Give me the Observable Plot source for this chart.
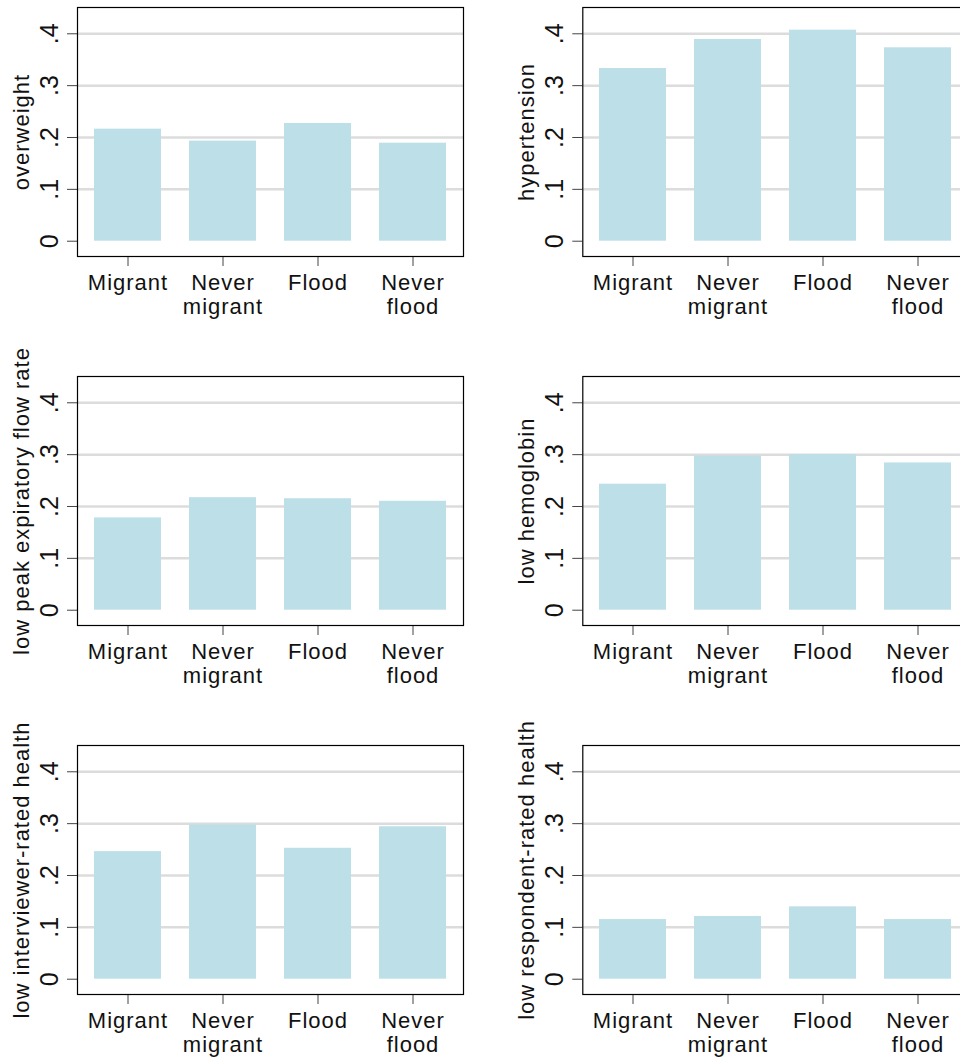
<!DOCTYPE html>
<html>
<head>
<meta charset="utf-8">
<script src="https://cdn.jsdelivr.net/npm/d3@7"></script>
<script src="https://cdn.jsdelivr.net/npm/@observablehq/plot@0.6"></script>
<style>
  html, body { margin: 0; padding: 0; background: white; }
  #wrap { position: relative; width: 960px; height: 1059px; overflow: hidden; background: white; }
  #wrap svg { position: absolute; overflow: visible; }
  .ytick text { letter-spacing: 0px; }
</style>
</head>
<body>
<div id="wrap"></div>
<script>
// ---- data ----
const categories = ["Migrant", "Never migrant", "Flood", "Never flood"];
const xTickLabels = ["Migrant", "Never\nmigrant", "Flood", "Never\nflood"];
const yTicks = [0, 0.1, 0.2, 0.3, 0.4];
const yTickLabels = ["0", ".1", ".2", ".3", ".4"];
const gridTicks = [0.1, 0.2, 0.3, 0.4];

const titles = [
  "overweight",
  "hypertension",
  "low peak expiratory flow rate",
  "low hemoglobin",
  "low interviewer-rated health",
  "low respondent-rated health"
];
const overweight   = [0.216, 0.193, 0.227, 0.189];
const hypertension = [0.333, 0.389, 0.407, 0.373];
const lowPEFR      = [0.178, 0.217, 0.215, 0.210];
const lowHemoglobin = [0.243, 0.297, 0.300, 0.284];
const lowInterviewer = [0.246, 0.2975, 0.2525, 0.294];
const lowRespondent  = [0.115, 0.121, 0.1395, 0.115];
const seriesList = [overweight, hypertension, lowPEFR, lowHemoglobin, lowInterviewer, lowRespondent];

// ---- layout ----
const wrap = document.getElementById("wrap");
const font = "'Liberation Sans', Arial, sans-serif";
const barColor = "#bddfe8";

seriesList.forEach((values, k) => {
  const row = Math.floor(k / 2), col = k % 2;
  const data = categories.map((c, i) => ({group: c, value: values[i]}));
  const chart = Plot.plot({
    width: 473,
    height: 356,
    marginTop: 7,
    marginBottom: 100,
    marginLeft: col === 0 ? 77 : 77.3,
    marginRight: 10,
    style: {fontFamily: font, fontSize: "22px", letterSpacing: "1px", color: "#111", background: "white", overflow: "visible"},
    x: {type: "band", domain: categories, paddingInner: 0.29, paddingOuter: 0.16, label: null},
    y: {domain: [-0.0295, 0.4507], label: null},
    marks: [
      Plot.gridY({ticks: gridTicks, stroke: "#dcdcdc", strokeOpacity: 1, strokeWidth: 2.5}),
      Plot.barY(data, {x: "group", y: "value", fill: barColor}),
      Plot.axisY({ticks: yTicks, tickSize: 10, stroke: "#444", tickFormat: () => "", label: null}),
      Plot.text(yTicks, {y: d => d, text: (d, i) => yTickLabels[i], frameAnchor: "left", dx: -20, rotate: -90, textAnchor: "middle", lineAnchor: "bottom", fontSize: 25, className: "ytick"}),
      Plot.text([titles[k]], {text: d => d, frameAnchor: "left", dx: -49, rotate: -90, textAnchor: "middle", lineAnchor: "bottom", fontSize: 22}),
      Plot.axisX({tickSize: 10, tickPadding: 6.5, stroke: "#444", tickFormat: (d) => xTickLabels[categories.indexOf(d)], fontSize: 22, lineHeight: 1.08, label: null}),
      Plot.frame({stroke: "black", strokeWidth: 1.2})
    ]
  });
  chart.style.left = (col === 0 ? 0 : 505) + "px";
  chart.style.top = (row * 369) + "px";
  wrap.appendChild(chart);
});
</script>
</body>
</html>
